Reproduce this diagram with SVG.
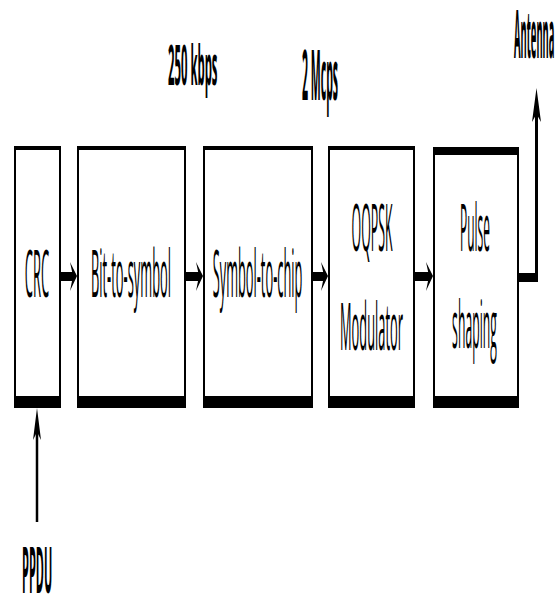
<svg xmlns="http://www.w3.org/2000/svg" width="560" height="599" viewBox="0 0 560 599">
  <style>
    .frame { fill: #ffffff; stroke: #000000; stroke-width: 2; }
    .bar { fill: #000000; }
    .lbl { font-family: "Open Sans", "Liberation Sans", sans-serif; font-size: 66px; fill: #000000; text-anchor: middle; }
    .note { font-family: "Open Sans", "Liberation Sans", sans-serif; font-weight: bold; fill: #000000; }
    .wire { stroke: #000000; fill: none; }
    .head { fill: #000000; }
  </style>

  <rect x="0" y="0" width="560" height="599" fill="#ffffff"/>

  <!-- processing blocks; labels are set in a tall, narrow face -->
  <g id="crc">
    <rect class="frame" x="15" y="147" width="45" height="255"/>
    <rect class="bar" x="14" y="146" width="47" height="4"/>
    <rect class="bar" x="14" y="396" width="47" height="12"/>
    <text class="lbl" transform="translate(37,297) scale(0.196,1)" font-size="60">CRC</text>
  </g>

  <g id="bit-to-symbol">
    <rect class="frame" x="78" y="147" width="107" height="255"/>
    <rect class="bar" x="77" y="146" width="109" height="4"/>
    <rect class="bar" x="77" y="396" width="109" height="12"/>
    <text class="lbl" transform="translate(131,297) scale(0.195,1)">Bit-to-symbol</text>
  </g>

  <g id="symbol-to-chip">
    <rect class="frame" x="204" y="147" width="108" height="255"/>
    <rect class="bar" x="203" y="146" width="110" height="4"/>
    <rect class="bar" x="203" y="396" width="110" height="12"/>
    <text class="lbl" transform="translate(257.5,297) scale(0.194,1)">Symbol-to-chip</text>
  </g>

  <g id="oqpsk-modulator">
    <rect class="frame" x="329" y="147" width="85" height="255"/>
    <rect class="bar" x="328" y="146" width="87" height="4"/>
    <rect class="bar" x="328" y="396" width="87" height="12"/>
    <text class="lbl" transform="translate(372,251) scale(0.187,1)">OQPSK</text>
    <text class="lbl" transform="translate(371.5,350) scale(0.195,1)">Modulator</text>
  </g>

  <g id="pulse-shaping">
    <rect class="frame" x="434" y="150" width="84" height="252"/>
    <rect class="bar" x="433" y="147" width="86" height="8"/>
    <rect class="bar" x="433" y="396" width="86" height="12"/>
    <text class="lbl" transform="translate(475,251) scale(0.181,1)">Pulse</text>
    <text class="lbl" transform="translate(474.5,348) scale(0.185,1)">shaping</text>
  </g>

  <!-- rate and port labels -->
  <g id="rate-250">
    <text class="note" transform="translate(168,85) scale(0.203,1)" font-size="56">250 kbps</text>
  </g>
  <g id="rate-2m">
    <text class="note" transform="translate(302,100) scale(0.151,1)" font-size="70">2 Mcps</text>
  </g>
  <g id="antenna">
    <text class="note" transform="translate(514,58) scale(0.143,1)" font-size="66">Antenna</text>
  </g>
  <g id="ppdu">
    <text class="note" transform="translate(22,593) scale(0.172,1)" font-size="64">PPDU</text>
  </g>

  <!-- connectors -->
  <g id="connectors">
    <!-- block to block -->
    <rect class="bar" x="61" y="272" width="12" height="9"/>
    <polygon class="head" points="70,262 77,276 70,291 73,276"/>

    <rect class="bar" x="186" y="272" width="13" height="9"/>
    <polygon class="head" points="196,262 203,276 196,291 199,276"/>

    <rect class="bar" x="313" y="272" width="11" height="9"/>
    <polygon class="head" points="321,262 328,276 321,291 324,276"/>

    <rect class="bar" x="415" y="272" width="14" height="9"/>
    <polygon class="head" points="426,262 433,276 426,291 429,276"/>

    <!-- output to antenna -->
    <rect class="bar" x="518" y="273" width="20" height="9"/>
    <line class="wire" x1="536.5" y1="282" x2="536.5" y2="110" stroke-width="3"/>
    <polygon class="head" points="536.5,88 541,122 536.5,114 532,122"/>

    <!-- PPDU input -->
    <line class="wire" x1="37" y1="522" x2="37" y2="425" stroke-width="2.5"/>
    <polygon class="head" points="37,408 41,440 37,432 33,440"/>
  </g>
</svg>
